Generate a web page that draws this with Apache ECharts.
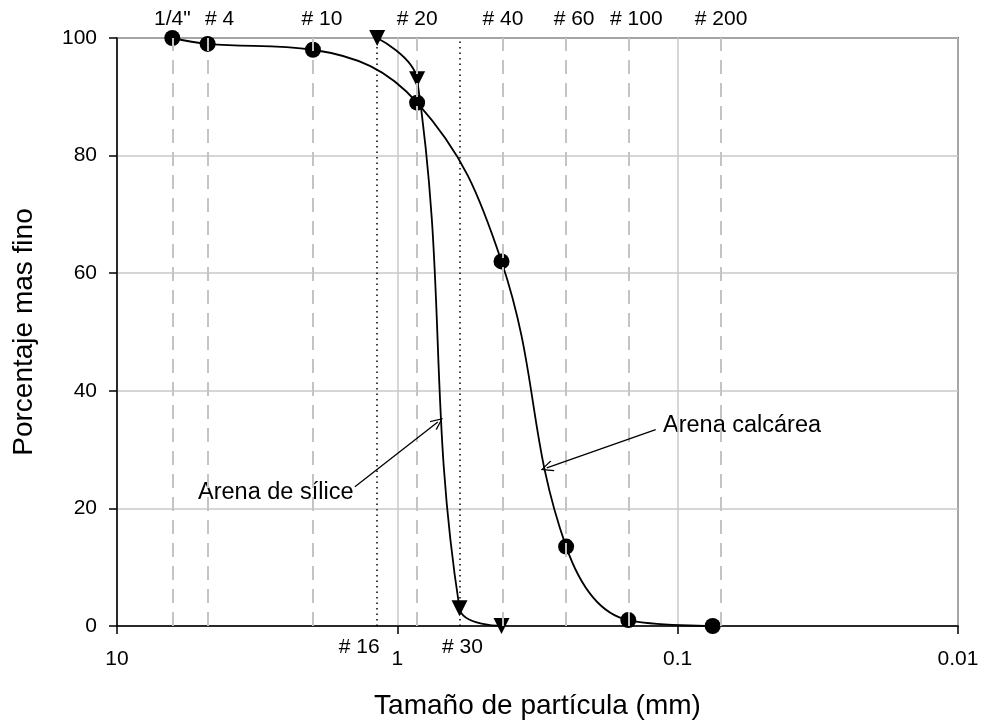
<!DOCTYPE html>
<html>
<head>
<meta charset="utf-8">
<title>Granulometria</title>
<script src="https://cdn.jsdelivr.net/npm/echarts@6/dist/echarts.min.js"></script>
<style>
  html, body { margin: 0; padding: 0; background: #fff; }
  #chart { width: 983px; height: 725px; }
</style>
</head>
<body>
<div id="chart"></div>
<script>
  // tamaño (mm) y porcentaje que pasa
  var calcareaSize = [6.35, 4.75, 2.0, 0.85, 0.425, 0.25, 0.15, 0.075];
  var calcareaPass = [100, 99, 98, 89, 62, 13.5, 1, 0];
  var siliceSize = [1.18, 0.85, 0.6, 0.425];
  var silicePass = [100, 93, 3, 0];

  // tamices (lineas discontinuas arriba)
  var sieveSize = [6.35, 4.75, 2.0, 0.85, 0.425, 0.25, 0.15, 0.075];
  var sieveName = ['1/4"', '# 4', '# 10', '# 20', '# 40', '# 60', '# 100', '# 200'];
  // tamices con linea punteada (etiqueta abajo)
  var dotSize = [1.18, 0.6];
  var dotName = ['# 16', '# 30'];

  var yTicks = [0, 20, 40, 60, 80, 100];

  var FONT = 'Liberation Sans, Arial, sans-serif';

  function pairs(xs, ys) {
    var out = [];
    for (var i = 0; i < xs.length; i++) out.push([xs[i], ys[i]]);
    return out;
  }

  // pequeño ajuste horizontal de las etiquetas de tamiz
  var sieveOffset = [0, 12, 9, 0, 0, 8, 8, 0];
  var sieveLines = sieveSize.map(function (s, i) {
    return {
      xAxis: s, name: sieveName[i],
      label: { offset: [sieveOffset[i], 0] }
    };
  });
  var dotOffset = [-18, 3];
  var dotLines = dotSize.map(function (s, i) {
    return {
      xAxis: s, name: dotName[i],
      label: { offset: [dotOffset[i], 0] }
    };
  });

  // flecha hacia cada curva
  var arrowPath = 'path://M0,0 L6,11 L5,12 L0,2.5 L-5,12 L-6,11 Z';
  var arrowCalcarea = [[0.1198, 33.4], [0.293, 26.9]];
  var arrowSilice = [[1.417, 23.7], [0.717, 34.7]];

  var myChart = echarts.init(document.getElementById('chart'));

  var option = {
    animation: false,
    backgroundColor: '#fff',
    textStyle: { fontFamily: FONT },
    grid: {
      left: 117, right: 25, top: 38, bottom: 97,
      show: true, borderColor: '#000', borderWidth: 1.5
    },
    xAxis: {
      type: 'log', logBase: 10, min: 0.01, max: 10, inverse: true,
      name: 'Tamaño de partícula (mm)',
      nameLocation: 'middle', nameGap: 66,
      nameTextStyle: { fontSize: 28, color: '#000', fontFamily: FONT },
      axisLine: { lineStyle: { color: '#000', width: 1.5 } },
      axisTick: { show: true, inside: false, length: 8, lineStyle: { color: '#000', width: 1.5 } },
      minorTick: { show: false },
      axisLabel: {
        color: '#000', fontSize: 21, margin: 23, fontFamily: FONT,
        formatter: function (v) { return String(+v.toPrecision(6)); }
      },
      splitLine: { show: true, lineStyle: { color: '#c8c8c8', width: 1.5 } }
    },
    yAxis: {
      type: 'value', min: 0, max: 100, interval: 20,
      name: 'Porcentaje mas fino',
      nameLocation: 'middle', nameGap: 79, nameRotate: 90,
      nameTextStyle: { fontSize: 28, color: '#000', fontFamily: FONT },
      axisLine: { show: true, lineStyle: { color: '#000', width: 1.5 } },
      axisTick: { show: true, inside: false, length: 8, lineStyle: { color: '#000', width: 1.5 } },
      axisLabel: {
        color: '#000', fontSize: 21, margin: 20, fontFamily: FONT,
        formatter: function (v) { return yTicks.indexOf(v) >= 0 ? String(v) : ''; }
      },
      splitLine: { show: true, lineStyle: { color: '#c8c8c8', width: 1.5 } }
    },
    graphic: [
      {
        type: 'text', left: 663, top: 414,
        style: { text: 'Arena calcárea', fontSize: 23.5, fontFamily: FONT, fill: '#000' }
      },
      {
        type: 'text', left: 198, top: 481,
        style: { text: 'Arena de sílice', fontSize: 23.5, fontFamily: FONT, fill: '#000' }
      }
    ],
    series: [
      {
        name: 'guias',
        type: 'line',
        data: [],
        silent: true,
        z: 1,
        markLine: {
          silent: true,
          symbol: ['none', 'none'],
          animation: false,
          lineStyle: { color: '#c4c4c4', width: 2, type: [14, 9] },
          label: {
            show: true, position: 'end', formatter: '{b}', distance: 8,
            color: '#000', fontSize: 21, fontFamily: FONT
          },
          data: sieveLines
        }
      },
      {
        name: 'punteadas',
        type: 'line',
        data: [],
        silent: true,
        z: 1,
        markLine: {
          silent: true,
          symbol: ['none', 'none'],
          animation: false,
          lineStyle: { color: '#000', width: 1.5, type: [1.5, 4] },
          label: {
            show: true, position: 'start', formatter: '{b}', distance: 11,
            color: '#000', fontSize: 21, fontFamily: FONT
          },
          data: dotLines
        }
      },
      {
        name: 'Arena calcárea',
        type: 'line',
        data: pairs(calcareaSize, calcareaPass),
        smooth: 0.4,
        symbol: 'circle',
        symbolSize: 16,
        z: 3,
        itemStyle: { color: '#000' },
        lineStyle: { color: '#000', width: 1.8 },
        markLine: {
          silent: true,
          symbol: ['none', arrowPath],
          symbolSize: [11, 13],
          lineStyle: { color: '#000', width: 1.3, type: 'solid' },
          label: { show: false },
          data: [[{ coord: arrowCalcarea[0] }, { coord: arrowCalcarea[1] }]]
        }
      },
      {
        name: 'Arena de sílice',
        type: 'line',
        data: pairs(siliceSize, silicePass),
        smooth: 0.4,
        symbol: 'triangle',
        symbolRotate: 180,
        symbolSize: 16,
        z: 3,
        itemStyle: { color: '#000' },
        lineStyle: { color: '#000', width: 1.8 },
        markLine: {
          silent: true,
          symbol: ['none', arrowPath],
          symbolSize: [11, 13],
          lineStyle: { color: '#000', width: 1.3, type: 'solid' },
          label: { show: false },
          data: [[{ coord: arrowSilice[0] }, { coord: arrowSilice[1] }]]
        }
      }
    ]
  };

  myChart.setOption(option);
</script>
</body>
</html>
